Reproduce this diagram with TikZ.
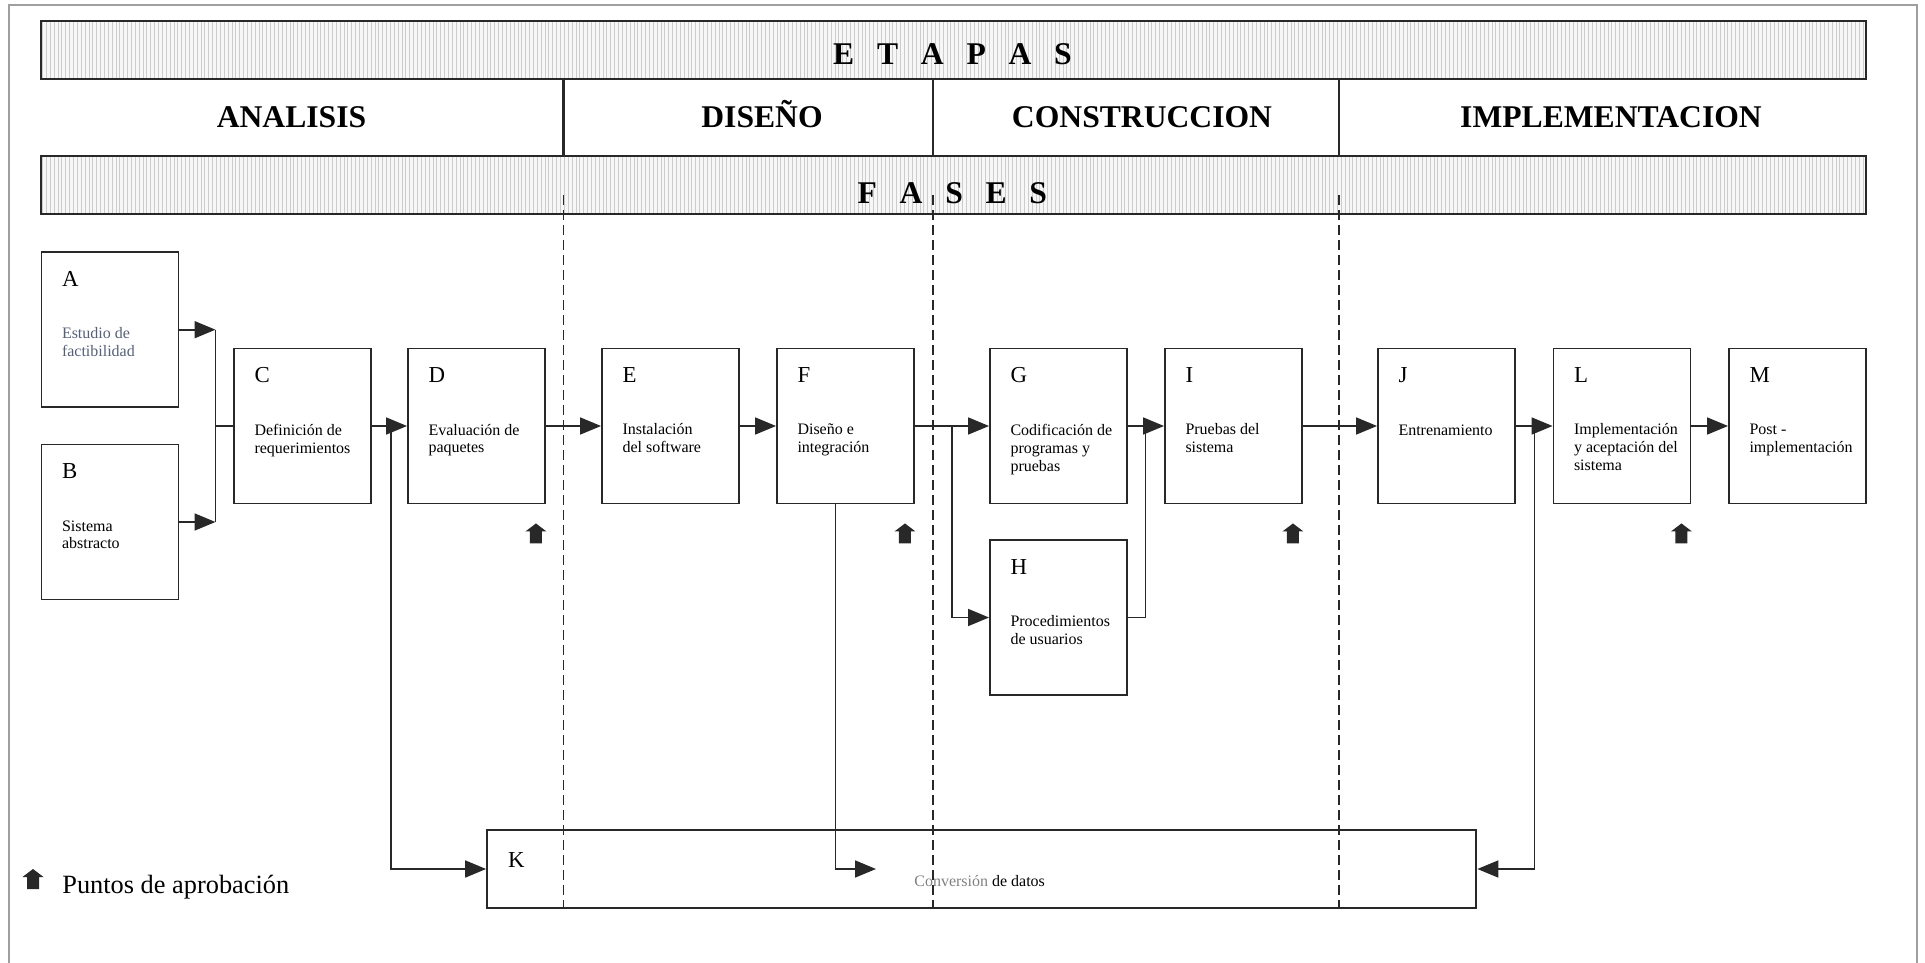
\documentclass[tikz,border=0pt]{standalone}
\usepackage{fontspec}
\setmainfont{Liberation Serif}
\usetikzlibrary{arrows.meta}
\usetikzlibrary{patterns.meta}
\definecolor{borde}{RGB}{40,40,40}
\definecolor{tenue}{RGB}{85,95,120}
\newcommand{\caja}[2]{\parbox[c][3.1cm][t]{2.74cm}{\raggedright\leftskip=0.41cm
	\rule{0pt}{0.68cm}{\fontsize{13}{15}\selectfont #1}\par\nointerlineskip\vspace{0.55cm}
	{\fontsize{9.1}{10.2}\selectfont\rule{0pt}{0.5cm}#2\par}}}
\tikzset{
	fase/.style={
		draw=borde,
		line width=1.1pt,
		inner sep=0pt,
		minimum width=2.74cm,
		minimum height=3.1cm
	},
	conversion/.style={
		draw=borde,
		line width=1.1pt,
		inner sep=0pt
	},
	banda/.style={
		draw=borde,
		line width=1.3pt,
		preaction={fill=gray!6},
		pattern={Lines[angle=90,distance=2.2pt,line width=0.45pt]},
		pattern color=gray!40
	},
	titulo/.style={font=\fontsize{18}{20}\selectfont\bfseries, anchor=base, inner sep=0pt},
	texto/.style={font=\fontsize{9.1}{10.2}\selectfont, anchor=base west, inner sep=0pt},
	flecha/.style={
		draw=borde,
		line width=1pt,
		-{Triangle[length=0.42cm,width=0.34cm]}
	},
	linea/.style={draw=borde, line width=1pt},
	limite/.style={draw=borde, line width=1.6pt},
	division/.style={draw=borde, line width=0.6pt, dash pattern=on 0.2cm off 0.1cm},
	marco/.style={draw=gray!75, line width=1.1pt},
	aprobacion/.pic={
		\fill[borde] (-6,0) -- (-6,-12) -- (-10.5,-12) -- (0,-20) -- (10.5,-12) -- (6,-12) -- (6,0) -- cycle;
	},
}

\begin{document}
\begin{tikzpicture}[x=0.02cm, y=-0.02cm]
		\useasboundingbox (0,0) rectangle (1925,963);
		\draw[marco] (9,963) |- (1917,5) -- (1917,963);

		\draw[banda] (40.7,20.7) rectangle (1866,79.3);
		\draw[banda] (40.7,156) rectangle (1866,214);
		\draw[limite] (563.5,79.3) -- (563.5,156);
		\draw[limite] (933,79.3) -- (933,156);
		\draw[limite] (1339,79.3) -- (1339,156);

		\node[titulo] (etapas) at (952.5,65) {\spaceskip=0.72em E T A P A S};
		\node[titulo] (fases) at (952.3,203) {\spaceskip=0.72em F A S E S};
		\node[titulo] (analisis) at (291.5,128) {ANALISIS};
		\node[titulo] (diseno) at (762,128) {DISEÑO};
		\node[titulo] (construccion) at (1142,128) {CONSTRUCCION};
		\node[titulo] (implementacion) at (1611,128) {IMPLEMENTACION};

		\node[fase] (A) at (110,329.7) {\caja{A}{\color{tenue}Estudio de\\factibilidad}};
		\node[fase] (B) at (110,522) {\caja{B}{Sistema\\abstracto}};
		\node[fase] (C) at (302.5,426) {\caja{C}{Definición de\\requerimientos}};
		\node[fase] (D) at (476.5,426) {\caja{D}{Evaluación de\\paquetes}};
		\node[fase] (E) at (670.5,426) {\caja{E}{Instalación\\del software}};
		\node[fase] (F) at (845.5,426) {\caja{F}{Diseño e\\integración}};
		\node[fase] (G) at (1058.5,426) {\caja{G}{Codificación de\\programas y\\pruebas}};
		\node[fase] (H) at (1058.5,617.5) {\caja{H}{Procedimientos\\de usuarios}};
		\node[fase] (I) at (1233.5,426) {\caja{I}{Pruebas del\\sistema}};
		\node[fase] (J) at (1446.5,426) {\caja{J}{Entrenamiento}};
		\node[fase] (L) at (1622,426) {\caja{L}{Implementación\\y aceptación del\\sistema}};
		\node[fase] (M) at (1797.5,426) {\caja{M}{Post -\\implementación}};

		\node[conversion] (K) at (981.75,869) {\parbox[c][1.56cm][t]{19.79cm}{\leftskip=0.42cm\rule{0pt}{0.74cm}{\fontsize{13}{15}\selectfont K}\par}};
		\node[texto] (datos) at (914,886) {\textcolor{gray}{Conversión} de datos};

		\coordinate (jAB) at (215.5,426);
		\coordinate (jCK) at (390.7,426);
		\coordinate (jFH) at (952,426);
		\coordinate (jHI) at (1145.6,426);
		\coordinate (jJK) at (1534.6,426);
		\coordinate (fK) at (835.6,869);
		\coordinate (finK) at (876,869);

		\draw[flecha] (A) -- (A -| jAB);
		\draw[flecha] (B) -- (B -| jAB);
		\draw[linea] (A -| jAB) -- (B -| jAB);
		\draw[linea] (jAB) -- (C);
		\draw[flecha] (C) -- (D);
		\draw[flecha] (jCK) |- (K);
		\draw[flecha] (D) -- (E);
		\draw[flecha] (E) -- (F);
		\draw[flecha] (F) -- (G);
		\draw[flecha] (jFH) |- (H);
		\draw[flecha] (G) -- (I);
		\draw[linea] (H) -| (jHI);
		\draw[flecha] (F.south -| fK) |- (finK);
		\draw[flecha] (I) -- (J);
		\draw[flecha] (J) -- (L);
		\draw[flecha] (jJK) |- (K);
		\draw[flecha] (L) -- (M);

		\draw[division] (563.5,195) -- (563.5,908);
		\draw[division] (933,195) -- (933,908);
		\draw[division] (1339,195) -- (1339,908);

		\pic (apD) at ([xshift=-0.2cm,yshift=-0.78cm]D.south east) {aprobacion};
		\pic (apF) at ([xshift=-0.2cm,yshift=-0.78cm]F.south east) {aprobacion};
		\pic (apI) at ([xshift=-0.2cm,yshift=-0.78cm]I.south east) {aprobacion};
		\pic (apL) at ([xshift=-0.2cm,yshift=-0.78cm]L.south east) {aprobacion};

		\pic (apLey) at (33,889) {aprobacion};
		\node[anchor=base west, inner sep=0pt, font=\fontsize{15}{17}\selectfont] (leyenda) at (62,893) {Puntos de aprobación};
	\end{tikzpicture}
\end{document}
